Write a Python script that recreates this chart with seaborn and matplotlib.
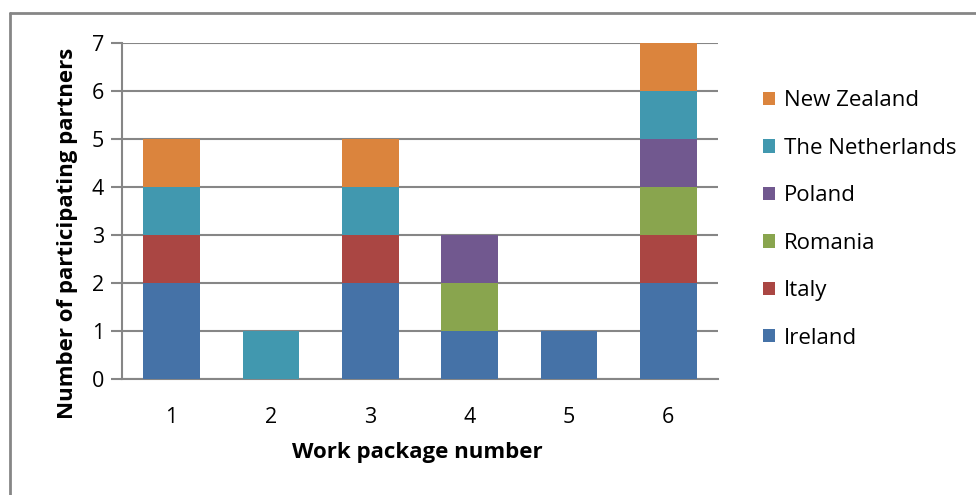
import matplotlib
matplotlib.use("Agg")
import matplotlib.pyplot as plt
from matplotlib.lines import Line2D
from matplotlib.patches import Patch
import seaborn as sns
import numpy as np

work_packages = ["1", "2", "3", "4", "5", "6"]
countries = ["Ireland", "Italy", "Romania", "Poland", "The Netherlands", "New Zealand"]
ireland = [2, 0, 2, 1, 1, 2]
italy = [1, 0, 1, 0, 0, 1]
romania = [0, 0, 0, 1, 0, 1]
poland = [0, 0, 0, 1, 0, 1]
netherlands = [1, 1, 1, 0, 0, 1]
new_zealand = [1, 0, 1, 0, 0, 1]
y_ticks = [0, 1, 2, 3, 4, 5, 6, 7]

series = [ireland, italy, romania, poland, netherlands, new_zealand]
colors = ["#4572A7", "#AA4643", "#89A54E", "#71588F", "#4198AF", "#DB843D"]

sns.set_style("white")
plt.rcParams["font.family"] = ["Open Sans", "DejaVu Sans"]
plt.rcParams["text.color"] = "black"
plt.rcParams["axes.labelcolor"] = "black"
plt.rcParams["xtick.color"] = "black"
plt.rcParams["ytick.color"] = "black"

W, H = 976, 495
fig = plt.figure(figsize=(W / 100, H / 100), dpi=100)
ax = fig.add_axes([122 / W, 1 - 379 / H, (718 - 122) / W, (379 - 43) / H])

gray = "#868686"
bottom = np.zeros(len(work_packages))
for name, vals, col in zip(countries, series, colors):
    sns.barplot(x=work_packages, y=vals, bottom=bottom, color=col, width=0.57,
                ax=ax, saturation=1, linewidth=0, zorder=3)
    bottom = bottom + np.array(vals)

ax.set_xlim(-0.5, 5.5)
ax.set_ylim(0, 7)
ax.set_yticks(y_ticks)
ax.yaxis.grid(True, color=gray, linewidth=1.5, zorder=0)
ax.set_axisbelow(True)
for s in ["top", "right"]:
    ax.spines[s].set_visible(False)
for s in ["left", "bottom"]:
    ax.spines[s].set_color(gray)
    ax.spines[s].set_linewidth(1.5)
ax.tick_params(axis="y", which="both", left=True, length=8, width=1.5, color=gray,
               labelcolor="black", labelsize=15.5, pad=5)
ax.tick_params(axis="x", bottom=False, labelsize=15.5, labelcolor="black", pad=17)
ax.set_xlabel("Work package number", fontsize=16, fontweight="bold")
ax.set_ylabel("Number of participating partners", fontsize=16, fontweight="bold")
ax.xaxis.set_label_coords((417.5 - 122) / 596, (379 - 442) / 336)
ax.yaxis.set_label_coords((78 - 122) / 596, (379 - 233.5) / 336)

handles = [Patch(facecolor=c, edgecolor="none") for c in colors][::-1]
labels = countries[::-1]
fig.legend(handles, labels, loc="center left", bbox_to_anchor=(763 / W, 1 - 219.5 / H),
           frameon=False, fontsize=16, labelspacing=1.19, handlelength=0.55,
           handleheight=0.55, handletextpad=0.4, borderaxespad=0, borderpad=0)

# outer frame (left and top edges visible)
fig.add_artist(Line2D([10 / W, 10 / W], [0, 1 - 13 / H], transform=fig.transFigure,
                      color=gray, linewidth=2))
fig.add_artist(Line2D([10 / W, 1], [1 - 13 / H, 1 - 13 / H], transform=fig.transFigure,
                      color=gray, linewidth=2))

fig.savefig("out.png", dpi=100, facecolor="white")
